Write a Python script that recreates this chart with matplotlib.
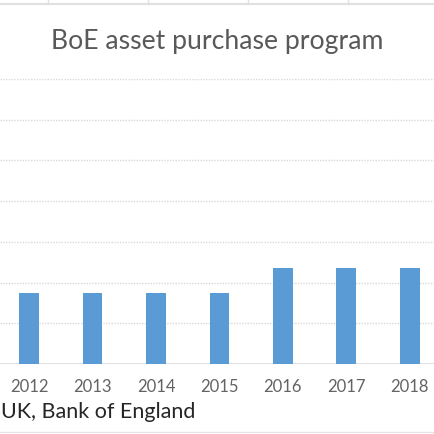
import matplotlib
matplotlib.use("Agg")
import matplotlib.pyplot as plt
from matplotlib.lines import Line2D

years = ["2012", "2013", "2014", "2015", "2016", "2017", "2018"]
purchases = [375, 375, 375, 375, 435, 435, 435]  # GBP bn
title = "BoE asset purchase program"
source = "UK, Bank of England"
y_min, y_max, y_step = 200, 900, 100

W = H = 435
fig = plt.figure(figsize=(4.35, 4.35), dpi=100)
fig.patch.set_facecolor("white")

font = ["Lato", "DejaVu Sans"]

# axes: baseline at y=365px, top at y=80px
ax = fig.add_axes([0, (H - 365) / H, 1, (365 - 80) / H])
ax.set_facecolor("none")
x = list(range(len(years)))
px_per_unit = 63.42
xmin = -29.2 / px_per_unit
ax.set_xlim(xmin, xmin + W / px_per_unit)
ax.set_ylim(y_min, y_max)

ax.bar(x, [v - y_min for v in purchases], bottom=y_min, width=0.31,
       color="#5b9bd5", zorder=3)

for g in range(y_min + y_step, y_max + 1, y_step):
    ax.axhline(g, color="#d9d9d9", lw=1.0, ls=(0, (1, 1)), zorder=1)
ax.axhline(y_min, color="#d9d9d9", lw=1.2, zorder=2)

for s in ax.spines.values():
    s.set_visible(False)
ax.set_yticks([])
ax.set_xticks(x)
ax.set_xticklabels(years, family=font, fontsize=12, color="#636363")
ax.tick_params(axis="x", length=0, pad=10)

fig.text(0.5, 1 - 42 / H, title, ha="center", va="center",
         family=font, fontsize=19.2, color="#595959")
fig.text(1 / W, 1 - 412 / H, source, ha="left", va="center",
         family=font, fontsize=15.5, color="#262626")

# spreadsheet cell borders around the chart
fig.add_artist(Line2D([0, 1], [1 - 5 / H, 1 - 5 / H], color="#e0e0e0", lw=1.5))
for xv in [48, 148, 248, 348]:
    fig.add_artist(Line2D([xv / W, xv / W], [1, 1 - 5 / H], color="#e0e0e0", lw=1))
fig.add_artist(Line2D([0, 1], [1 - 433 / H, 1 - 433 / H], color="#e6e6e6", lw=1))

fig.savefig("out.png", dpi=100, facecolor="white")
